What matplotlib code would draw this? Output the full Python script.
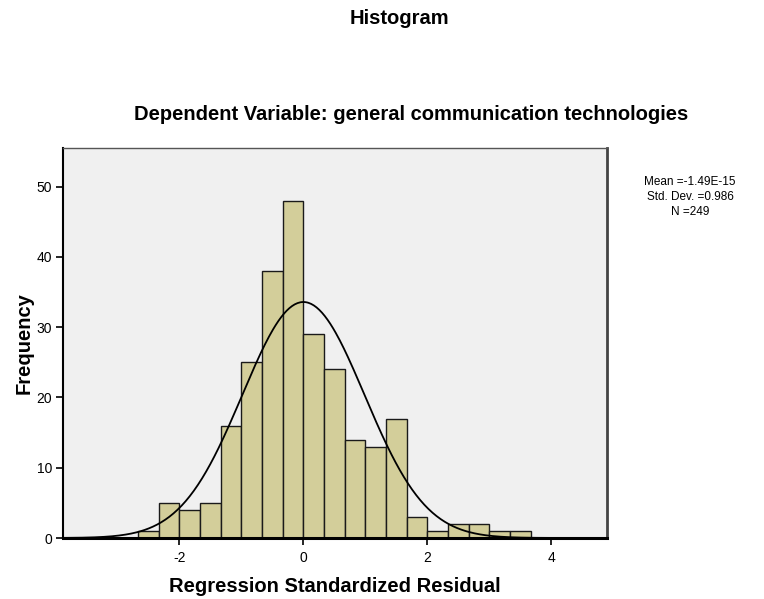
import numpy as np
import matplotlib
matplotlib.use("Agg")
import matplotlib.pyplot as plt

plt.rcParams['font.family'] = ['Liberation Sans', 'DejaVu Sans']
plt.rcParams['axes.unicode_minus'] = False

# residual histogram counts, bins of width 1/3 from -8/3 to 11/3
bin_edges = np.arange(-8, 12) / 3.0
counts = [1, 5, 4, 5, 16, 25, 38, 48, 29, 24, 14, 13, 17, 3, 1, 2, 2, 1, 1]

mean = -1.49e-15
std_dev = 0.986
n_obs = 249

x_ticks = [-2, 0, 2, 4]
y_ticks = [0, 10, 20, 30, 40, 50]

fig = plt.figure(figsize=(7.64, 5.99), dpi=100)
ax = fig.add_axes([63 / 764, 61 / 599, 544 / 764, 390 / 599])
ax.set_facecolor('#f0f0f0')

width = bin_edges[1] - bin_edges[0]
ax.bar(bin_edges[:-1], counts, width=width, align='edge',
       color='#d3ce9a', edgecolor='#1a1a1a', linewidth=1.0, zorder=2)

# fitted normal curve
xs = np.linspace(-3.88, 4.9, 400)
pdf = np.exp(-0.5 * ((xs - mean) / std_dev) ** 2) / (std_dev * np.sqrt(2 * np.pi))
ax.plot(xs, pdf * n_obs * width, color='black', linewidth=1.3, zorder=3)

ax.set_xlim(-3.88, 4.9)
ax.set_ylim(0, 55.5)
ax.set_xticks(x_ticks)
ax.set_yticks(y_ticks)
ax.tick_params(axis='both', direction='out', length=5, width=1.2,
               labelsize=10, pad=3)
ax.tick_params(axis='x', pad=4)

ax.spines['bottom'].set_linewidth(2.2)
ax.spines['bottom'].set_color('black')
ax.spines['left'].set_linewidth(1.5)
ax.spines['left'].set_color('black')
ax.spines['top'].set_linewidth(1.0)
ax.spines['top'].set_color('#555555')
ax.spines['right'].set_linewidth(2.0)
ax.spines['right'].set_color('#444444')

ax.set_xlabel('Regression Standardized Residual', fontsize=14.5,
              fontweight='bold', labelpad=9)
ax.set_ylabel('Frequency', fontsize=14.5, fontweight='bold', labelpad=2)

fig.text(0.523, 1 - 18 / 599, 'Histogram', ha='center', va='center',
         fontsize=14.5, fontweight='bold')
fig.text(0.538, 1 - 114 / 599, 'Dependent Variable: general communication technologies',
         ha='center', va='center', fontsize=14.5, fontweight='bold')

fig.text(690 / 764, 1 - 197 / 599,
         'Mean =-1.49E-15\nStd. Dev. =0.986\nN =249',
         ha='center', va='center', fontsize=8.5, linespacing=1.35)

fig.savefig('out.png', dpi=100)
